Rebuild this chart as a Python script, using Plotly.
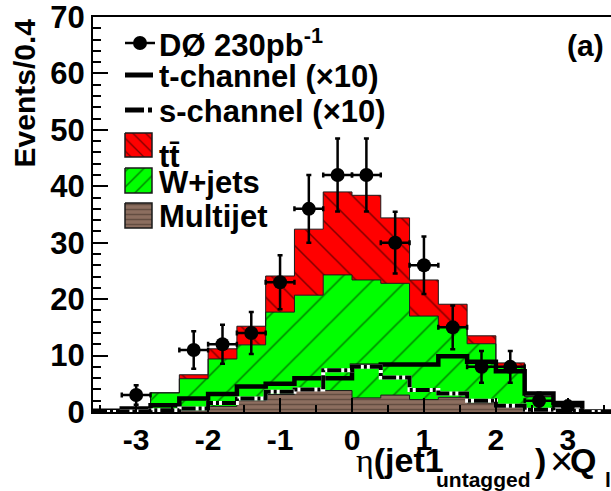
import numpy as np
import plotly.graph_objects as go

# ---- binning: eta(jet1 untagged) x Q_lepton, 0.4 wide bins ----
BIN_WIDTH = 0.4
BIN_CENTERS = [-3.4, -3.0, -2.6, -2.2, -1.8, -1.4, -1.0, -0.6, -0.2,
               0.2, 0.6, 1.0, 1.4, 1.8, 2.2, 2.6, 3.0, 3.4]

# observed events per bin
DATA_COUNTS = [0, 3, 0, 11, 12, 14, 23, 36, 42, 42, 30, 26, 15, 8, 8, 2, 1, 0]

# background expectations (stacked: multijet, W+jets, ttbar)
MULTIJET = [0.0, 0.0, 0.0, 0.2, 1.0, 2.0, 3.1, 4.1, 3.8, 2.5, 3.0, 2.2, 2.6, 1.6, 0.8, 0.2, 0.0, 0.0]
WJETS = [0.2, 0.6, 3.4, 5.7, 8.4, 9.9, 14.6, 16.6, 20.5, 20.9, 19.8, 14.8, 12.5, 10.5, 7.2, 2.5, 0.4, 0.1]
TTBAR = [0.0, 0.1, 0.0, 0.7, 1.8, 3.3, 6.4, 11.7, 14.7, 15.0, 11.6, 6.4, 4.0, 1.4, 0.7, 0.1, 0.1, 0.0]

# single-top signals, scaled by 10
T_CHANNEL_X10 = [0.2, 0.6, 1.2, 2.4, 3.2, 4.5, 5.0, 6.0, 6.0, 8.2, 8.4, 8.4, 9.9, 8.9, 7.2, 3.3, 1.6, 0.1]
S_CHANNEL_X10 = [0.0, 0.1, 0.3, 0.6, 1.6, 2.4, 3.6, 4.0, 7.4, 8.0, 6.1, 3.9, 3.3, 2.0, 1.1, 0.4, 0.2, 0.0]

X_TICKS = [-3, -2, -1, 0, 1, 2, 3]
X_TICK_TEXT = ["-3", "-2", "-1", "0", "1", "2", "3"]
Y_TICKS = [0, 10, 20, 30, 40, 50, 60, 70]

RED = "#ff0000"
GREEN = "#00ff00"
BROWN = "#8c6e5f"
FONT = "Liberation Sans"

# plot-area geometry in pixels (used to place the hand-drawn legend and titles)
PX_L, PX_R, PX_T, PX_B = 93, 611, 17, 412


def px_x(p):
    return (p - PX_L) / (PX_R - PX_L)


def px_y(p):
    return (PX_B - p) / (PX_B - PX_T)


centers = np.array(BIN_CENTERS)
edges = np.append(centers - BIN_WIDTH / 2, centers[-1] + BIN_WIDTH / 2)


def step_y(vals):
    v = list(vals)
    return v + [v[-1]]


layer_mj = np.array(MULTIJET)
layer_w = layer_mj + np.array(WJETS)
layer_tt = layer_w + np.array(TTBAR)

fig = go.Figure()

stack = [
    (layer_mj, "tozeroy", BROWN, "-", "#3a2c24", 5, 0.3),
    (layer_w, "tonexty", GREEN, "/", "#000000", 24, 0.065),
    (layer_tt, "tonexty", RED, "\\", "#000000", 19, 0.08),
]
for vals, fillmode, col, shp, fg, sz, sol in stack:
    fig.add_trace(go.Scatter(
        x=edges, y=step_y(vals), mode="lines",
        line=dict(shape="hv", color="#1a1a1a", width=1),
        fill=fillmode, fillcolor=col,
        fillpattern=dict(shape=shp, bgcolor=col, fgcolor=fg, size=sz, solidity=sol),
        hoverinfo="skip", showlegend=False,
    ))

# t-channel (x10): thick solid step line
fig.add_trace(go.Scatter(
    x=edges, y=step_y(T_CHANNEL_X10), mode="lines",
    line=dict(shape="hv", color="black", width=4.5),
    hoverinfo="skip", showlegend=False,
))
# s-channel (x10): dash-dot step line on a white underlay
fig.add_trace(go.Scatter(
    x=edges, y=step_y(S_CHANNEL_X10), mode="lines",
    line=dict(shape="hv", color="white", width=4),
    hoverinfo="skip", showlegend=False,
))
fig.add_trace(go.Scatter(
    x=edges, y=step_y(S_CHANNEL_X10), mode="lines",
    line=dict(shape="hv", color="black", width=4, dash="14px,3px,3px,3px"),
    hoverinfo="skip", showlegend=False,
))

# data points with Poisson errors
counts = np.array(DATA_COUNTS, dtype=float)
mask = counts > 0
fig.add_trace(go.Scatter(
    x=centers[mask], y=counts[mask], mode="markers",
    marker=dict(color="black", size=14),
    error_y=dict(type="data", array=np.sqrt(counts[mask]), color="black", thickness=2.5, width=2.5),
    error_x=dict(type="constant", value=BIN_WIDTH / 2, color="black", thickness=2.5, width=2.5),
    hoverinfo="skip", showlegend=False,
))

# ---- legend drawn on a pixel-coordinate overlay ----
LX0, LX1 = 125, 152
legend_boxes = [
    (133, 157, RED, "\\", "#000000", 9, 0.15),
    (168, 193, GREEN, "/", "#000000", 11, 0.13),
    (203, 228, BROWN, "-", "#3a2c24", 5, 0.3),
]
for y0, y1, col, shp, fg, sz, sol in legend_boxes:
    fig.add_trace(go.Scatter(
        x=[LX0, LX1, LX1, LX0, LX0], y=[y0, y0, y1, y1, y0],
        xaxis="x2", yaxis="y2", mode="lines", fill="toself", fillcolor=col,
        fillpattern=dict(shape=shp, bgcolor=col, fgcolor=fg, size=sz, solidity=sol),
        line=dict(color="#1a1a1a", width=1.5), hoverinfo="skip", showlegend=False,
    ))
# data key
fig.add_trace(go.Scatter(x=[125, 155], y=[43, 43], xaxis="x2", yaxis="y2", mode="lines",
                         line=dict(color="black", width=2.5), hoverinfo="skip", showlegend=False))
fig.add_trace(go.Scatter(x=[140], y=[43], xaxis="x2", yaxis="y2", mode="markers",
                         marker=dict(color="black", size=14), hoverinfo="skip", showlegend=False))
# t-channel key
fig.add_trace(go.Scatter(x=[125, 153], y=[75, 75], xaxis="x2", yaxis="y2", mode="lines",
                         line=dict(color="black", width=5), hoverinfo="skip", showlegend=False))
# s-channel key
fig.add_trace(go.Scatter(x=[125, 144], y=[110, 110], xaxis="x2", yaxis="y2", mode="lines",
                         line=dict(color="black", width=5), hoverinfo="skip", showlegend=False))
fig.add_trace(go.Scatter(x=[148, 152], y=[110, 110], xaxis="x2", yaxis="y2", mode="lines",
                         line=dict(color="black", width=5), hoverinfo="skip", showlegend=False))

legend_text = [
    (43, "DØ 230pb<sup>-1</sup>"),
    (76, "t-channel (×10)"),
    (111, "s-channel (×10)"),
    (156, "tt̄"),
    (182, "W+jets"),
    (216, "Multijet"),
]
annotations = []
for yy, txt in legend_text:
    annotations.append(dict(
        x=px_x(157), y=px_y(yy), xref="paper", yref="paper", text=txt, showarrow=False,
        xanchor="left", yanchor="middle",
        font=dict(family=FONT, size=31, color="black", weight="bold"),
    ))

annotations.append(dict(
    x=px_x(606), y=px_y(46), xref="paper", yref="paper", text="(a)", showarrow=False,
    xanchor="right", yanchor="middle",
    font=dict(family=FONT, size=30, color="black", weight="bold"),
))

# y-axis title
annotations.append(dict(
    x=px_x(24), y=1.0, xref="paper", yref="paper", text="Events/0.4",
    textangle=-90, showarrow=False, xanchor="center", yanchor="top",
    font=dict(family=FONT, size=30, color="black", weight="bold"),
))

# x-axis title, assembled from pieces so the subscripts sit low as in ROOT
SERIF = '<span style="font-family:Liberation Serif;font-weight:normal">{}</span>'
title_parts = [
    (355, 460, SERIF.format("η") + "(jet1", 34, "bold"),
    (435, 479, "untagged", 21, "bold"),
    (534, 460, ")", 34, "bold"),
    (549, 461, "×", 40, "normal"),
    (569, 460, "Q", 34, "bold"),
    (604, 479, "l", 21, "bold"),
]
for xx, yy, txt, fs, wt in title_parts:
    annotations.append(dict(
        x=px_x(xx), y=px_y(yy), xref="paper", yref="paper", text=txt,
        showarrow=False, xanchor="left", yanchor="middle", borderpad=0,
        font=dict(family=FONT, size=fs, color="black", weight=wt),
    ))

fig.update_layout(
    width=611, height=491,
    margin=dict(l=PX_L, r=611 - PX_R, t=PX_T, b=491 - PX_B),
    plot_bgcolor="white", paper_bgcolor="white",
    showlegend=False,
    annotations=annotations,
    xaxis=dict(
        range=[-3.6, 3.6], tickmode="array", tickvals=X_TICKS, ticktext=X_TICK_TEXT,
        ticks="inside", ticklen=14, tickwidth=1.5, tickcolor="black",
        minor=dict(ticks="inside", ticklen=7, tickmode="linear", tick0=0, dtick=0.5,
                   tickcolor="black", tickwidth=1.5),
        showline=True, linecolor="black", linewidth=2, mirror=True,
        showgrid=False, zeroline=False, ticklabeloverflow="allow",
        tickfont=dict(family=FONT, size=30, color="black", weight="bold"),
    ),
    yaxis=dict(
        range=[0, 70], tickmode="array", tickvals=Y_TICKS,
        ticks="inside", ticklen=15, tickwidth=1.5, tickcolor="black",
        minor=dict(ticks="inside", ticklen=8, tickmode="linear", tick0=0, dtick=2,
                   tickcolor="black", tickwidth=1.5),
        showline=True, linecolor="black", linewidth=2, mirror=False,
        showgrid=False, zeroline=False, ticklabeloverflow="allow",
        tickfont=dict(family=FONT, size=31, color="black", weight="bold"),
    ),
    xaxis2=dict(overlaying="x", range=[PX_L, PX_R], visible=False, fixedrange=True),
    yaxis2=dict(overlaying="y", range=[PX_B, PX_T], visible=False, fixedrange=True),
)

fig.write_html("out.html")
